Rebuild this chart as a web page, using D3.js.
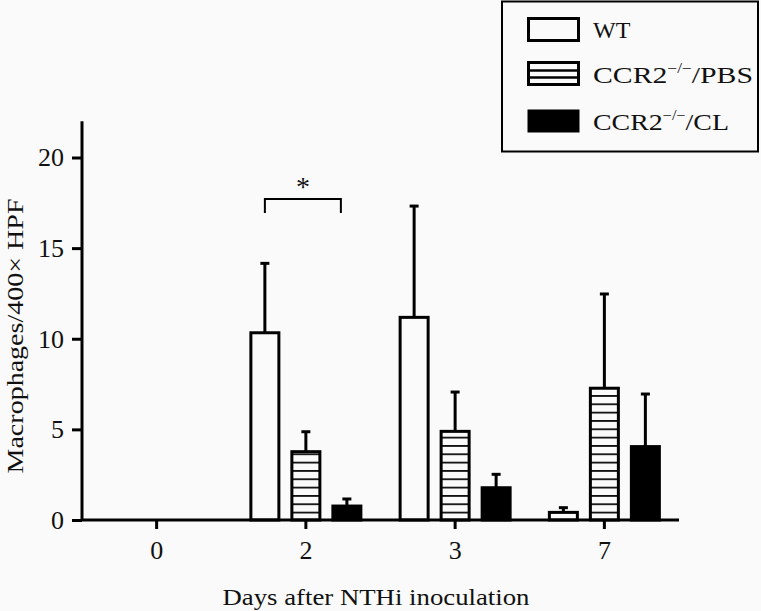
<!DOCTYPE html>
<html>
<head>
<meta charset="utf-8">
<script src="https://cdn.jsdelivr.net/npm/d3@7"></script>
<style>
  html, body { margin: 0; padding: 0; background: #fafafa; }
  svg { display: block; }
  text { font-family: "Liberation Serif", "Times New Roman", Times, serif; fill: #111; }
</style>
</head>
<body>
<svg id="chart" width="761" height="611"></svg>
<script>
// ---- data ----
const days = ["0", "2", "3", "7"];
const seriesNames = ["WT", "CCR2/PBS", "CCR2/CL"];
const wtValues  = [0, 10.33, 11.18, 0.42];
const wtErr     = [0, 3.83, 6.14, 0.26];
const pbsValues = [0, 3.77, 4.89, 7.27];
const pbsErr    = [0, 1.10, 2.17, 5.20];
const clValues  = [0, 0.77, 1.78, 4.05];
const clErr     = [0, 0.39, 0.74, 2.90];
const yTicks = [0, 5, 10, 15, 20];

const seriesValues = [wtValues, pbsValues, clValues];
const seriesErr = [wtErr, pbsErr, clErr];

const svg = d3.select("#chart");
svg.append("rect").attr("width", 761).attr("height", 611).attr("fill", "#fafafa");

// patterns
const defs = svg.append("defs");
const pat = defs.append("pattern").attr("id", "hatch")
  .attr("patternUnits", "userSpaceOnUse")
  .attr("x", 0).attr("y", 520).attr("width", 10).attr("height", 8.33);
pat.append("rect").attr("width", 10).attr("height", 8.33).attr("fill", "#fafafa");
pat.append("rect").attr("y", 0).attr("width", 10).attr("height", 1.8).attr("fill", "#111");

const fills = ["#fafafa", "url(#hatch)", "#000"];

// scales
const x = d3.scaleBand().domain(days).range([82, 679]).padding(0);
const xs = d3.scalePoint().domain(seriesNames).range([-41, 41]);
const y = d3.scaleLinear().domain([0, 22]).range([520, 121.25]);
const barW = 28;

const g = svg.append("g");

const rows = [];
days.forEach((d, i) => {
  seriesNames.forEach((s, j) => {
    rows.push({ day: d, s: s, j: j, v: seriesValues[j][i], e: seriesErr[j][i] });
  });
});
const data = rows.filter(r => r.v > 0);

// error bars
data.forEach(r => {
  const cx = x(r.day) + x.bandwidth() / 2 + xs(r.s);
  g.append("line").attr("x1", cx).attr("x2", cx)
    .attr("y1", y(r.v)).attr("y2", y(r.v + r.e))
    .attr("stroke", "#000").attr("stroke-width", 3);
  g.append("line").attr("x1", cx - 4.5).attr("x2", cx + 4.5)
    .attr("y1", y(r.v + r.e)).attr("y2", y(r.v + r.e))
    .attr("stroke", "#000").attr("stroke-width", 3);
});

g.selectAll("rect.bar").data(data).enter().append("rect")
  .attr("class", "bar")
  .attr("x", r => x(r.day) + x.bandwidth() / 2 + xs(r.s) - barW / 2)
  .attr("width", barW)
  .attr("y", r => y(r.v))
  .attr("height", r => y(0) - y(r.v))
  .attr("fill", r => fills[r.j])
  .attr("stroke", "#000").attr("stroke-width", 3);

// axes
const yAxis = d3.axisLeft(y).tickValues(yTicks).tickSize(10).tickPadding(8).tickFormat(d3.format("d"));
const ya = svg.append("g").attr("transform", "translate(82,0)").call(yAxis);
ya.attr("font-family", null);
ya.select(".domain").attr("d", `M0,${y(0)}V${y(22)}`).attr("stroke", "#000").attr("stroke-width", 3);
ya.selectAll(".tick line").attr("stroke", "#000").attr("stroke-width", 3);
ya.selectAll(".tick text").attr("font-size", 26).attr("fill", "#111");

const xAxis = d3.axisBottom(x).tickSize(9).tickPadding(12);
const xa = svg.append("g").attr("transform", `translate(0,${y(0)})`).call(xAxis);
xa.attr("font-family", null);
xa.select(".domain").attr("d", "M82,0H679").attr("stroke", "#000").attr("stroke-width", 3);
xa.selectAll(".tick line").attr("stroke", "#000").attr("stroke-width", 3);
xa.selectAll(".tick text").attr("font-size", 26).attr("fill", "#111");

// axis titles
svg.append("text").attr("x", 376).attr("y", 605).attr("text-anchor", "middle")
  .attr("font-size", 24).attr("textLength", 307).attr("lengthAdjust", "spacingAndGlyphs")
  .text("Days after NTHi inoculation");
svg.append("text").attr("transform", "translate(23,336) rotate(-90)").attr("text-anchor", "middle")
  .attr("font-size", 24).attr("textLength", 275).attr("lengthAdjust", "spacingAndGlyphs")
  .text("Macrophages/400× HPF");

// significance bracket
const bx1 = x("2") + x.bandwidth() / 2 + xs("WT");
const bx2 = x("2") + x.bandwidth() / 2 + xs("CCR2/CL") - 6;
svg.append("path").attr("d", `M${bx1},213V199H${bx2}V213`)
  .attr("fill", "none").attr("stroke", "#000").attr("stroke-width", 2);
svg.append("text").attr("x", (bx1 + bx2) / 2).attr("y", 196).attr("text-anchor", "middle")
  .attr("font-size", 28).text("*");

// legend
const lg = svg.append("g");
lg.append("rect").attr("x", 502).attr("y", 1.5).attr("width", 256).attr("height", 150)
  .attr("fill", "#fafafa").attr("stroke", "#000").attr("stroke-width", 2);
const legY = [18.5, 62.5, 110.5];
const legBase = [38, 83, 130];
lg.append("rect").attr("x", 528.5).attr("y", legY[0]).attr("width", 50).attr("height", 22)
  .attr("fill", "#fafafa").attr("stroke", "#000").attr("stroke-width", 3);
lg.append("rect").attr("x", 528.5).attr("y", legY[1]).attr("width", 50).attr("height", 22)
  .attr("fill", "#fafafa").attr("stroke", "#000").attr("stroke-width", 3);
[70.5, 77.5].forEach(yy => lg.append("line").attr("x1", 528.5).attr("x2", 578.5)
  .attr("y1", yy).attr("y2", yy).attr("stroke", "#000").attr("stroke-width", 2.5));
lg.append("rect").attr("x", 528.5).attr("y", legY[2]).attr("width", 50).attr("height", 21)
  .attr("fill", "#000").attr("stroke", "#000").attr("stroke-width", 2);

lg.append("text").attr("x", 593).attr("y", legBase[0]).attr("font-size", 24).text("WT");
[["/PBS", 1], ["/CL", 2]].forEach(([suffix, k]) => {
  const t = lg.append("text").attr("x", 593).attr("y", legBase[k]).attr("font-size", 24)
    .attr("textLength", suffix === "/PBS" ? 160 : 136).attr("lengthAdjust", "spacingAndGlyphs");
  t.append("tspan").text("CCR2");
  t.append("tspan").attr("font-size", 14).attr("dy", -10).text("−/−");
  t.append("tspan").attr("dy", 10).text(suffix);
});
</script>
</body>
</html>
